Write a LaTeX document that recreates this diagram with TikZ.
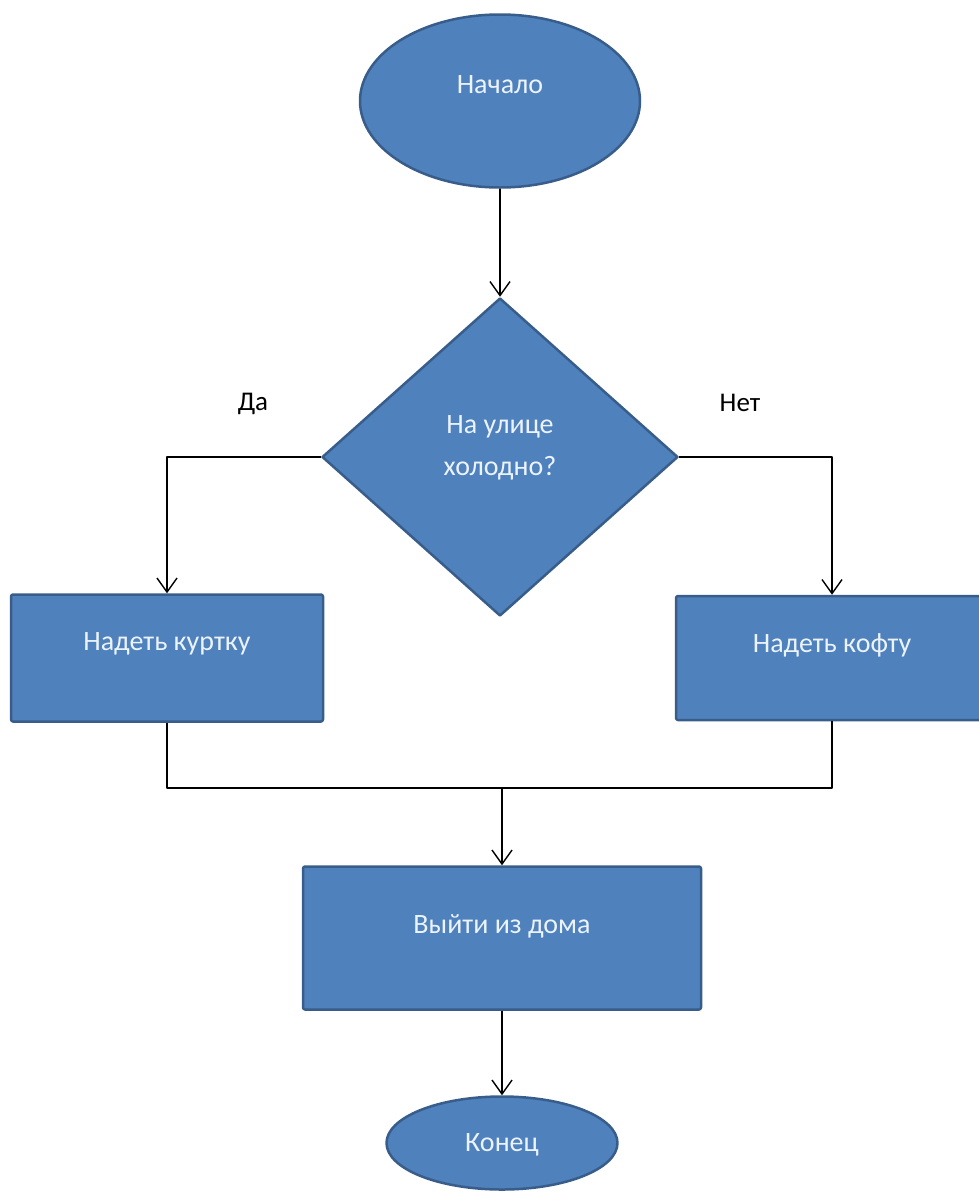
\documentclass[tikz,border=0pt]{standalone}
\usepackage{fontspec}
\setmainfont{Carlito}
\usetikzlibrary{shapes.geometric,arrows.meta}
\definecolor{blkfill}{RGB}{79,129,189}
\definecolor{blkline}{RGB}{56,93,138}
\definecolor{blktext}{RGB}{235,243,252}

\begin{document}
\begin{tikzpicture}[x=1pt, y=-1pt, line join=round,
	blk/.style={draw=blkline, fill=blkfill, line width=2.5pt, text=blktext, font=\fontsize{28}{42}\selectfont},
	term/.style={blk, ellipse, inner sep=0pt, text height=20pt, text depth=#1},
	act/.style={blk, rectangle, rounded corners=2pt, text height=20pt, text depth=#1},
	ask/.style={blk, diamond, align=center, inner sep=0pt, text depth=23pt},
	flow/.style={line width=1.4pt, -{Straight Barb[length=14pt, width=20pt]}},
	tag/.style={font=\fontsize{27}{32}\selectfont}]
	\useasboundingbox (0,0) rectangle (979,1195);
	\node[term=36pt, minimum width=280pt, minimum height=173pt] (start) at (500,101) {Начало};
	\node[ask, minimum width=356pt, minimum height=318pt] (cold) at (500,457) {На улице\\холодно?};
	\node[act=36pt, minimum width=312pt, minimum height=127pt] (jacket) at (167,658) {Надеть куртку};
	\node[act=32pt, minimum width=312pt, minimum height=124pt] (sweater) at (832,658) {Надеть кофту};
	\node[act=30pt, minimum width=398pt, minimum height=143pt] (leave) at (502,938) {Выйти из дома};
	\node[term=4pt, minimum width=231pt, minimum height=93pt] (stop) at (502,1143) {Конец};
	\node[tag] (yes) at (253,404) {Да};
	\node[tag] (no) at (740,403) {Нет};
	\coordinate (merge) at (502,788);
	\draw[flow] (start) -- (cold);
	\draw[flow] (cold.west) -| (jacket);
	\draw[flow] (cold.east) -| (sweater);
	\draw[line width=1.4pt] (jacket) |- (merge) -| (sweater);
	\draw[flow] (merge) -- (leave);
	\draw[flow] (leave) -- (stop);
\end{tikzpicture}
\end{document}
